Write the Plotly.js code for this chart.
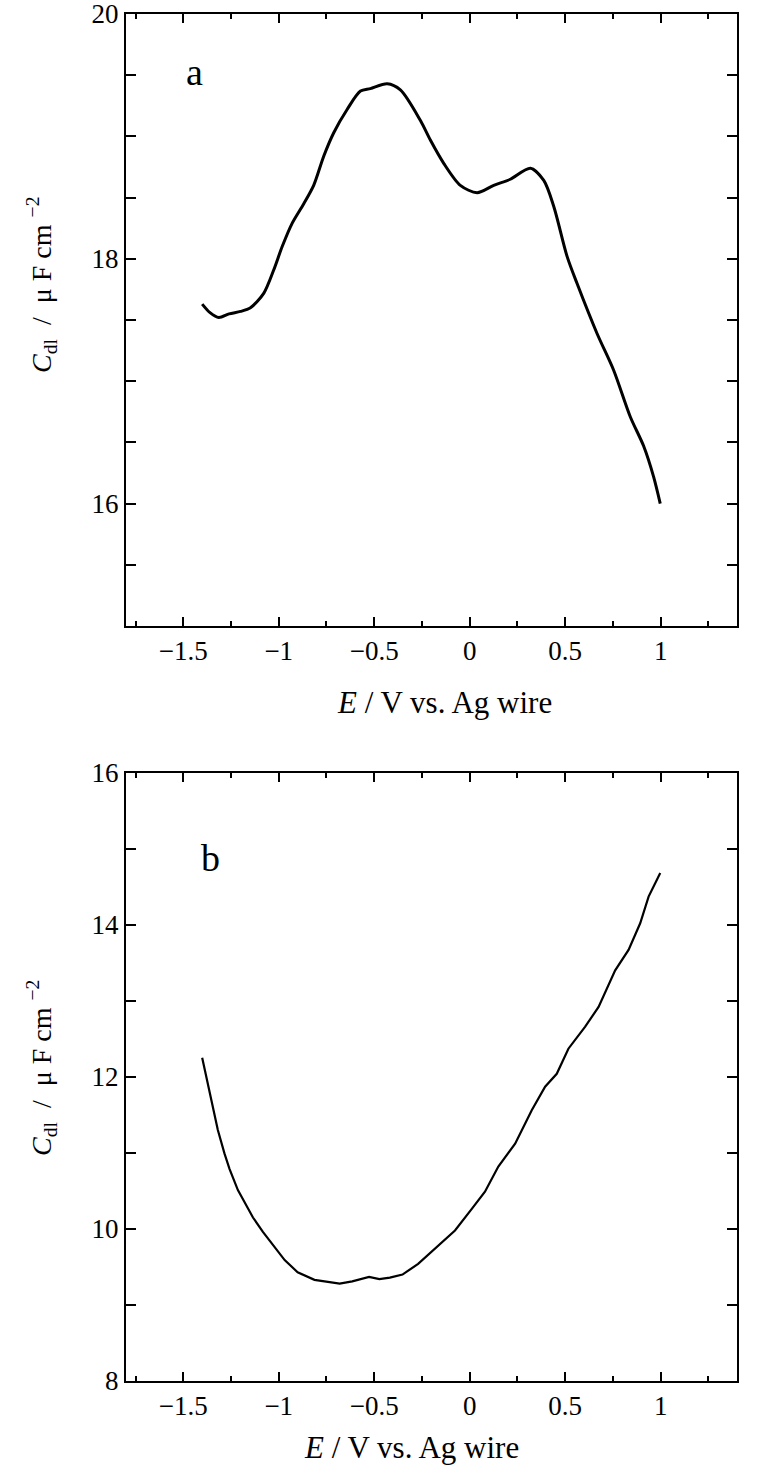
<!DOCTYPE html>
<html>
<head>
<meta charset="utf-8">
<script src="https://cdn.plot.ly/plotly-3.0.1.min.js"></script>
<style>
  html, body { margin: 0; padding: 0; background: #fff; }
  #chart { width: 771px; height: 1473px; }
</style>
</head>
<body>
<div id="chart"></div>
<script>
// panel a : Cdl vs E
var a_E = [-1.401, -1.36, -1.314, -1.26, -1.2, -1.148, -1.078, -1.026, -0.982, -0.93, -0.869, -0.817,
  -0.764, -0.712, -0.642, -0.572, -0.52, -0.432, -0.363, -0.258, -0.206, -0.136, -0.049, 0.039,
  0.126, 0.213, 0.318, 0.388, 0.44, 0.51, 0.562, 0.667, 0.754, 0.841, 0.911, 0.963, 0.998];
var a_C = [17.63, 17.56, 17.52, 17.55, 17.57, 17.60, 17.72, 17.91, 18.10, 18.29, 18.45, 18.60,
  18.84, 19.03, 19.22, 19.37, 19.39, 19.43, 19.38, 19.13, 18.97, 18.78, 18.60, 18.54,
  18.60, 18.65, 18.74, 18.64, 18.43, 18.02, 17.80, 17.39, 17.09, 16.71, 16.47, 16.22, 16.00];

// panel b
var b_E = [-1.401, -1.372, -1.345, -1.319, -1.284, -1.258, -1.214, -1.17, -1.135, -1.083, -1.021, -0.969,
  -0.901, -0.813, -0.681, -0.615, -0.527, -0.473, -0.418, -0.352, -0.27, -0.182, -0.077, 0.01,
  0.08, 0.15, 0.238, 0.325, 0.395, 0.456, 0.517, 0.605, 0.675, 0.762, 0.832, 0.893, 0.937, 0.998];
var b_C = [12.25, 11.91, 11.61, 11.30, 10.99, 10.79, 10.51, 10.30, 10.15, 9.96, 9.76, 9.59,
  9.43, 9.33, 9.28, 9.31, 9.37, 9.34, 9.36, 9.40, 9.54, 9.74, 9.98, 10.26,
  10.49, 10.82, 11.12, 11.56, 11.87, 12.04, 12.37, 12.66, 12.92, 13.40, 13.67, 14.02, 14.37, 14.68];

var panelLabels = ["a", "b"];
var xTitle = "<i>E</i> / V vs. Ag wire";
var yTitle = "<i>C</i><sub>dl</sub>  /  μ F cm <sup>−2</sup>";

var serif = "Liberation Serif, Times New Roman, serif";
var fnt = { family: serif, size: 27, color: "#000" };
var titleFnt = { family: serif, size: 31, color: "#000" };
var yTitleFnt = { family: serif, size: 28, color: "#000" };

var trace1 = {
  x: a_E, y: a_C, xaxis: "x", yaxis: "y",
  mode: "lines", type: "scatter",
  line: { color: "#000", width: 3, shape: "spline", smoothing: 0.8 },
  hoverinfo: "skip"
};
var trace2 = {
  x: b_E, y: b_C, xaxis: "x2", yaxis: "y2",
  mode: "lines", type: "scatter",
  line: { color: "#000", width: 2.2 },
  hoverinfo: "skip"
};

function xax(anchor) {
  return {
    anchor: anchor, range: [-1.8, 1.4], dtick: 0.5, tick0: 0,
    showline: true, linewidth: 2, linecolor: "#000", mirror: "ticks",
    ticks: "inside", ticklen: 9, tickwidth: 2, tickcolor: "#000",
    minor: { dtick: 0.25, ticks: "inside", ticklen: 5, tickwidth: 2, tickcolor: "#000" },
    showgrid: false, zeroline: false, tickfont: fnt, ticklabeloverflow: "allow"
  };
}
function yax(anchor, dom, rng, minorStep) {
  return {
    anchor: anchor, domain: dom, range: rng, dtick: 2, tick0: 0,
    showline: true, linewidth: 2, linecolor: "#000", mirror: "ticks",
    ticks: "inside", ticklen: 10, tickwidth: 2, tickcolor: "#000",
    minor: { dtick: minorStep, ticks: "inside", ticklen: 10, tickwidth: 2, tickcolor: "#000" },
    showgrid: false, zeroline: false, tickfont: fnt, ticklabeloverflow: "allow"
  };
}

// axis titles as paper annotations so they sit where the original has them
function note(x, y, txt, f, ang) {
  return { x: x, y: y, xref: "paper", yref: "paper", text: txt, showarrow: false,
    xanchor: "center", yanchor: "middle", textangle: ang || 0, font: f };
}
var annos = [
  { x: -1.44, y: 19.53, xref: "x", yref: "y", text: panelLabels[0], showarrow: false,
    xanchor: "center", yanchor: "middle", font: { family: serif, size: 38, color: "#000" } },
  { x: -1.36, y: 14.88, xref: "x2", yref: "y2", text: panelLabels[1], showarrow: false,
    xanchor: "center", yanchor: "middle", font: { family: serif, size: 38, color: "#000" } },
  note(0.522, 0.496, xTitle, titleFnt),
  note(0.468, -0.0483, xTitle, titleFnt),
  note(-0.1375, 0.8018, yTitle, yTitleFnt, -90),
  note(-0.1375, 0.229, yTitle, yTitleFnt, -90)
];

var layout = {
  width: 771, height: 1473,
  margin: { l: 126, r: 34, t: 14, b: 92 },
  paper_bgcolor: "#fff", plot_bgcolor: "#fff",
  showlegend: false,
  font: fnt,
  xaxis: xax("y"),
  yaxis: yax("x", [0.5523, 1], [15, 20], 0.5),
  xaxis2: xax("y2"),
  yaxis2: yax("x2", [0, 0.445], [8, 16], 1),
  annotations: annos
};

Plotly.newPlot("chart", [trace1, trace2], layout, { staticPlot: true });
</script>
</body>
</html>
